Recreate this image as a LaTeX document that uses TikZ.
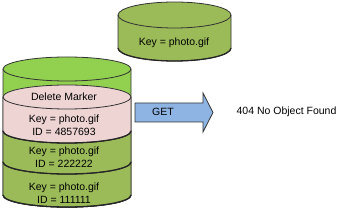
\documentclass[tikz,border=0pt]{standalone}
\usepackage{fontspec}
\setmainfont{Liberation Sans}
\definecolor{hellgruen}{HTML}{92D050}
\definecolor{oliv}{HTML}{9BBB59}
\definecolor{rosa}{HTML}{EED5D4}
\definecolor{hellblau}{HTML}{8EB4E3}
% 圆柱: 中心x, 半轴x, 顶y, 底y, 半轴y, 颜色
\newcommand{\drawdisk}[6]{%
  \filldraw[fill=#6,draw=black!80] (#1-#2,#3) -- (#1-#2,#4) arc (180:360:#2 and #5)
    -- (#1+#2,#3) arc (0:180:#2 and #5) -- cycle;
  \draw[black!80] (#1-#2,#3) arc (180:360:#2 and #5);
  \draw[black!85,line width=1.3pt] (#1-#2,#4) arc (180:360:#2 and #5);}
\tikzset{
  txt/.style={font=\fontsize{10.5}{13}\selectfont,inner sep=0pt,align=center}
}
\begin{document}
\begin{tikzpicture}[x=1pt,y=1pt,line width=0.8pt]
    \useasboundingbox (0,0) rectangle (343,211);

    % 上方的圆柱
    \drawdisk{174.5}{56.5}{196}{163}{13}{oliv}
    \node[txt] (oben) at (174,168) {Key = photo.gif};

    % 左边的桶
    \drawdisk{67}{64}{142}{16}{12}{hellgruen}
    \drawdisk{67}{64}{49}{16}{12}{oliv}
    \drawdisk{67}{64}{80}{49}{12}{oliv}
    \drawdisk{67}{64}{114}{80}{12}{rosa}

    % 版本
    \node[txt] (marker) at (64,114) {Delete Marker};
    \node[txt] (v3) at (64,86) {Key = photo.gif\\ID = 4857693};
    \node[txt] (v2) at (64,54) {Key = photo.gif\\ID = 222222};
    \node[txt] (v1) at (64,17.5) {Key = photo.gif\\ID = 111111};

    % GET 箭头
    \filldraw[fill=hellblau,draw=black!80] (135,108) -- (203,108) -- (203,118)
      -- (213,98.5) -- (203,79) -- (203,89) -- (135,89) -- cycle;
    \node[txt] (get) at (163,99) {GET};

    % 结果
    \node[txt] (antwort) at (286.5,99) {404 No Object Found};
\end{tikzpicture}
\end{document}
